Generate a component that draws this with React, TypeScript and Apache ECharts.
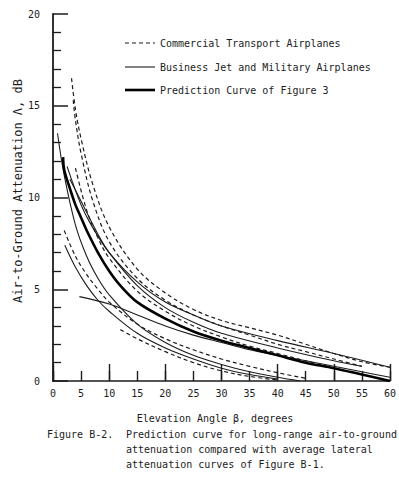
import React, { useEffect, useRef } from "react";
import * as echarts from "echarts";

// Elevation angle β (deg) and attenuation Λ (dB)
const commercial1: number[][] = [[3.3, 16.5], [4, 14.8], [5, 13.2], [7, 10.8], [10, 8.4], [15, 6.1], [20, 4.8], [25, 3.9], [30, 3.3], [35, 2.9], [40, 2.5], [45, 2.0], [50, 1.5], [55, 1.05], [60, 0.75]];
const commercial2: number[][] = [[3.6, 15.3], [4, 14.2], [5, 12.4], [7, 9.9], [10, 7.6], [15, 5.6], [20, 4.4], [25, 3.6], [30, 3.0], [35, 2.5], [40, 2.0], [45, 1.6], [50, 1.2], [55, 0.8]];
const commercial3: number[][] = [[2, 8.2], [4, 6.8], [6, 5.8], [8, 5.0], [10, 4.3], [15, 3.1], [20, 2.3], [25, 1.7], [30, 1.2], [35, 0.8], [40, 0.45], [45, 0.15]];
const commercial4: number[][] = [[12, 2.8], [15, 2.3], [20, 1.6], [25, 1.0], [30, 0.55], [35, 0.25], [40, 0.05]];
const commercial5: number[][] = [[4, 11.6], [6, 9.3], [8, 7.8], [10, 6.7], [15, 4.9], [20, 3.8], [25, 3.0], [30, 2.4], [35, 1.9], [40, 1.5], [45, 1.1], [50, 0.7]];

const business1: number[][] = [[0.8, 13.5], [2, 11.2], [4, 8.5], [6, 6.8], [8, 5.6], [10, 4.7], [15, 3.1], [20, 2.1], [25, 1.4], [30, 0.9], [35, 0.5], [40, 0.2], [44, 0.0]];
const business2: number[][] = [[2.1, 7.4], [4, 6.2], [6, 5.2], [8, 4.4], [10, 3.8], [15, 2.6], [20, 1.8], [25, 1.2], [30, 0.7], [35, 0.35], [40, 0.1]];
const business3: number[][] = [[4.7, 4.6], [10, 4.2], [15, 3.6], [20, 3.0], [25, 2.5], [30, 2.1], [35, 1.7], [40, 1.4], [45, 1.1], [50, 0.8], [55, 0.5], [60, 0.2]];
const business4: number[][] = [[2.5, 11.7], [5, 9.6], [7, 8.4], [10, 7.0], [15, 5.4], [20, 4.3], [25, 3.6], [30, 3.0], [40, 2.2], [50, 1.5], [60, 0.75]];
const business5: number[][] = [[3, 11.0], [5, 9.8], [8, 8.0], [10, 7.0], [15, 5.2], [20, 4.0], [25, 3.2], [30, 2.6], [40, 1.8], [50, 1.1], [55, 0.8]];

const prediction: number[][] = [[1.8, 12.2], [2, 11.5], [3, 10.5], [4, 9.6], [5, 8.9], [6, 8.2], [8, 7.0], [10, 6.0], [12, 5.2], [15, 4.3], [20, 3.4], [25, 2.7], [30, 2.2], [35, 1.8], [40, 1.4], [45, 1.0], [50, 0.7], [55, 0.35], [60, 0.0]];

const legendNames = ["Commercial Transport Airplanes", "Business Jet and Military Airplanes", "Prediction Curve of Figure 3"];
const captionLabel = "Figure B-2.";
const captionLines = [
  "Prediction curve for long-range air-to-ground",
  "attenuation compared with average lateral",
  "attenuation curves of Figure B-1.",
];
const xTitle = "Elevation Angle \u03b2, degrees";
const yTitle = "Air-to-Ground Attenuation \u039b, dB";

const INK = "#1c1c1c";
const FONT = "DejaVu Sans Mono";

export default function App() {
  const ref = useRef<HTMLDivElement>(null);
  useEffect(() => {
    if (!ref.current) return;
    const chart = echarts.init(ref.current, null, { renderer: "svg" });
    const dashed = (d: number[][]) => ({
      type: "line", data: d, showSymbol: false, smooth: 0.35, xAxisIndex: 0,
      lineStyle: { color: INK, width: 1.2, type: [4, 3] }, silent: true,
    });
    const thin = (d: number[][]) => ({
      type: "line", data: d, showSymbol: false, smooth: 0.35, xAxisIndex: 0,
      lineStyle: { color: INK, width: 1.1 }, silent: true,
    });
    const thick = (d: number[][]) => ({
      type: "line", data: d, showSymbol: false, smooth: 0.35, xAxisIndex: 0,
      lineStyle: { color: "#000", width: 2.6 }, silent: true,
    });
    const legendY = [43, 67, 90];
    const legendStyles = [
      { stroke: INK, lineWidth: 1.2, lineDash: [4, 3] },
      { stroke: INK, lineWidth: 1.1 },
      { stroke: "#000", lineWidth: 2.6 },
    ];
    const graphics: any[] = [];
    legendNames.forEach((n, i) => {
      graphics.push({ type: "line", shape: { x1: 125, y1: legendY[i], x2: 155, y2: legendY[i] }, style: legendStyles[i] });
      graphics.push({ type: "text", x: 160, y: legendY[i], style: { text: n, font: `10px "${FONT}"`, fill: INK, textVerticalAlign: "middle" } });
    });
    graphics.push({ type: "text", x: 47, y: 434, style: { text: captionLabel, font: `10px "${FONT}"`, fill: INK, textVerticalAlign: "middle" } });
    captionLines.forEach((t, i) => {
      graphics.push({ type: "text", x: 126, y: 434 + i * 15, style: { text: t, font: `10px "${FONT}"`, fill: INK, textVerticalAlign: "middle" } });
    });
    graphics.push({ type: "text", x: 215, y: 418, style: { text: xTitle, font: `10px "${FONT}"`, fill: INK, textAlign: "center", textVerticalAlign: "middle" } });
    graphics.push({ type: "text", x: 18, y: 191, rotation: Math.PI / 2, style: { text: yTitle, font: `12px "${FONT}"`, fill: INK, textAlign: "center", textVerticalAlign: "middle" } });

    chart.setOption({
      animation: false,
      backgroundColor: "#fff",
      grid: { left: 53, right: 4, top: 14, bottom: 102, containLabel: false },
      xAxis: [
        {
          type: "value", min: 0, max: 60, interval: 5, position: "bottom",
          axisLine: { show: true, lineStyle: { color: INK, width: 1.6 } },
          axisTick: { show: true, inside: true, length: 10, lineStyle: { color: INK, width: 1.4 } },
          axisLabel: { color: INK, fontFamily: FONT, fontSize: 10, margin: 7 },
          splitLine: { show: false },
        },
        {
          type: "value", min: 0, max: 60, interval: 10, position: "bottom",
          axisLine: { show: false },
          axisTick: { show: true, inside: true, length: 17, lineStyle: { color: INK, width: 1.4 } },
          axisLabel: { show: false },
          splitLine: { show: false },
        },
      ],
      yAxis: {
        type: "value", min: 0, max: 20, interval: 5,
        axisLine: { show: true, lineStyle: { color: INK, width: 1.8 } },
        axisTick: { show: true, inside: true, length: 15, lineStyle: { color: INK, width: 1.5 } },
        minorTick: { show: true, splitNumber: 5, length: 8, lineStyle: { color: INK, width: 1.3 } },
        axisLabel: { color: INK, fontFamily: FONT, fontSize: 10, margin: 13 },
        splitLine: { show: false },
        minorSplitLine: { show: false },
      },
      graphic: graphics,
      series: [
        dashed(commercial1), dashed(commercial2), dashed(commercial3), dashed(commercial4), dashed(commercial5),
        thin(business1), thin(business2), thin(business3), thin(business4), thin(business5),
        thick(prediction),
      ],
    });
    return () => chart.dispose();
  }, []);
  return <div ref={ref} style={{ width: 399, height: 483, position: "absolute", left: 0, top: 0, background: "#fff" }} />;
}
